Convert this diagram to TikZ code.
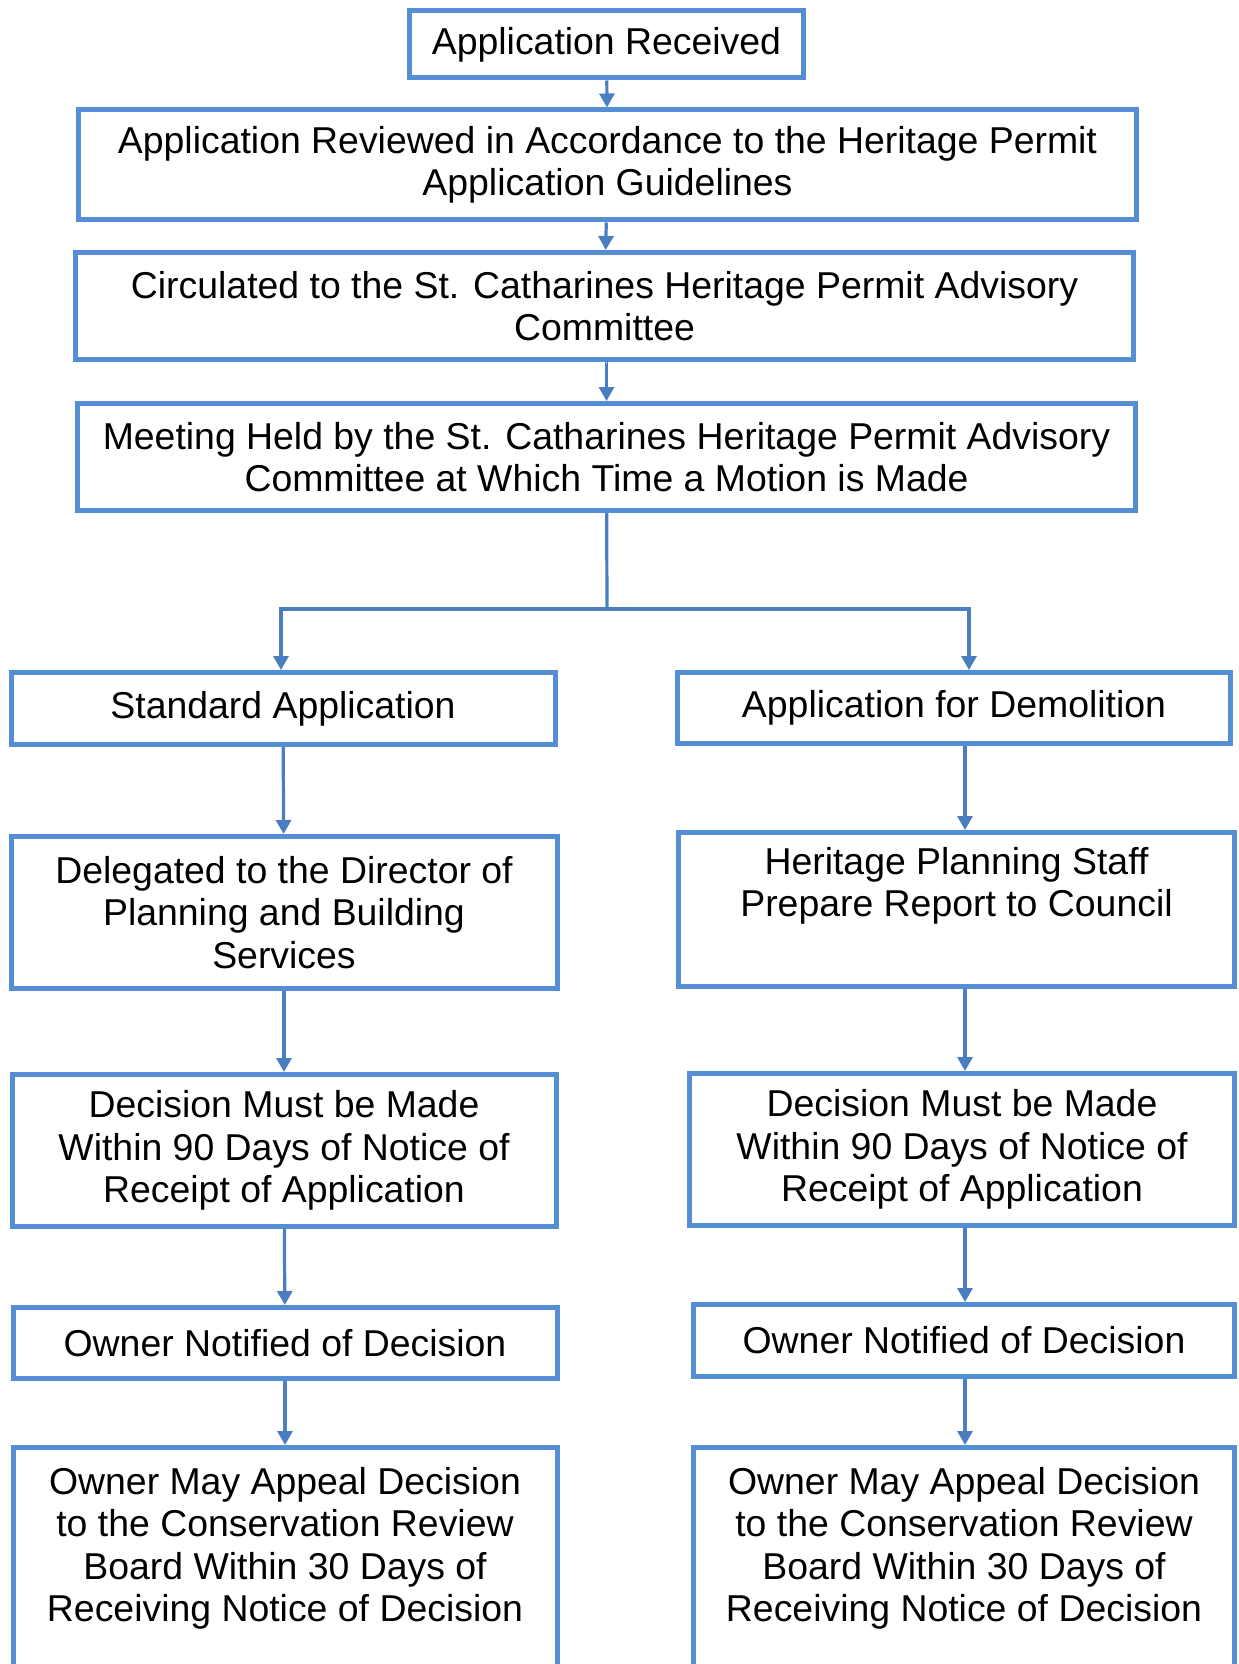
\documentclass[tikz,border=0pt]{standalone}
\usepackage{fontspec}
\setmainfont{Liberation Sans}
\usetikzlibrary{arrows.meta}

\definecolor{boxblue}{RGB}{85,142,213}
\definecolor{linkblue}{RGB}{74,126,193}

\tikzset{
    stage/.style={draw=boxblue, line width=2.5pt, rectangle, inner sep=0pt, align=center,
        font=\fontsize{18.7}{21.3}\selectfont},
    link/.style={draw=linkblue, line width=1.6pt},
    flow/.style={link, -{Triangle[length=7pt,width=7.5pt]}},
}

\begin{document}
\begin{tikzpicture}[x=0.5pt, y=-0.5pt]
    \useasboundingbox (0,0) rectangle (1238,1664);
    \clip (0,0) rectangle (1238,1664);

    % Main chain
    \node[stage, minimum width=197pt, minimum height=33.5pt] (recv)   at (606.5,44.5) {Application Received};
    \node[stage, minimum width=529pt, minimum height=55pt]   (review) at (607.5,165) {Application Reviewed in Accordance to the Heritage Permit\\Application Guidelines};
    \node[stage, minimum width=529pt, minimum height=53.5pt] (circ)   at (604.5,306) {Circulated to the St. Catharines Heritage Permit Advisory\\Committee};
    \node[stage, minimum width=529pt, minimum height=53.5pt] (meet)   at (606.5,457) {Meeting Held by the St. Catharines Heritage Permit Advisory\\Committee at Which Time a Motion is Made};

    % Split
    \coordinate (split) at (607,609);
    \coordinate (lturn) at (281,609);
    \coordinate (rturn) at (969,609);
    \coordinate (rspine) at (965,0);

    % Left branch
    \node[stage, minimum width=272pt, minimum height=36pt]   (std)     at (283,708.5) {Standard Application};
    \node[stage, minimum width=273pt, minimum height=76pt]   (deleg)   at (284,912.5) {Delegated to the Director of\\Planning and Building\\Services};
    \node[stage, minimum width=272pt, minimum height=76pt]   (ldec)    at (284,1150.5) {Decision Must be Made\\Within 90 Days of Notice of\\Receipt of Application};
    \node[stage, minimum width=272pt, minimum height=35.5pt] (lnote)   at (285,1343) {Owner Notified of Decision};
    \node[stage, minimum width=272pt, minimum height=146pt]  (lappeal) at (285,1593.5) {Owner May Appeal Decision\\to the Conservation Review\\Board Within 30 Days of\\Receiving Notice of Decision\\\strut\\\strut};

    % Right branch
    \node[stage, minimum width=276.5pt, minimum height=35.5pt] (demo)    at (954,708) {Application for Demolition};
    \node[stage, minimum width=278pt, minimum height=77pt]     (staff)   at (956.5,909.5) {Heritage Planning Staff\\Prepare Report to Council\\\strut};
    \node[stage, minimum width=272.5pt, minimum height=76pt]   (rdec)    at (962,1149.5) {Decision Must be Made\\Within 90 Days of Notice of\\Receipt of Application};
    \node[stage, minimum width=270.5pt, minimum height=36pt]   (rnote)   at (964,1340.5) {Owner Notified of Decision};
    \node[stage, minimum width=270.5pt, minimum height=146pt]  (rappeal) at (964,1593.5) {Owner May Appeal Decision\\to the Conservation Review\\Board Within 30 Days of\\Receiving Notice of Decision\\\strut\\\strut};

    % Arrows
    \draw[flow] (recv) -- (review);
    \draw[flow] (review) -- (circ);
    \draw[flow] (circ) -- (meet |- circ.south) -- (meet);
    \draw[link] (meet) -- (split);
    \draw[flow] (split) -- (lturn) -- (lturn |- std.north);
    \draw[flow] (split) -- (rturn) -- (rturn |- demo.north);

    \draw[flow] (std) -- (deleg);
    \draw[flow] (deleg) -- (ldec);
    \draw[flow] (ldec) -- (lnote);
    \draw[flow] (lnote) -- (lappeal);

    \draw[flow] (demo.south -| rspine) -- (staff.north -| rspine);
    \draw[flow] (staff.south -| rspine) -- (rdec.north -| rspine);
    \draw[flow] (rdec.south -| rspine) -- (rnote.north -| rspine);
    \draw[flow] (rnote.south -| rspine) -- (rappeal.north -| rspine);
\end{tikzpicture}
\end{document}
